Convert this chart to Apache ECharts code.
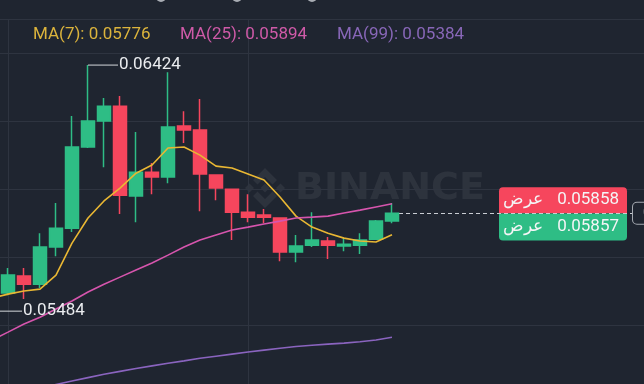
<!DOCTYPE html>
<html><head><meta charset="utf-8">
<script src="https://cdn.jsdelivr.net/npm/echarts@6/dist/echarts.min.js"></script>
<style>html,body{margin:0;padding:0;background:#1f2530;}#c{width:644px;height:384px;}</style>
</head><body><div id="c"></div>
<script>
const categories = ['06:00','06:15','06:30','06:45','07:00','07:15','07:30','07:45','08:00','08:15','08:30','08:45','09:00','09:15','09:30','09:45','10:00','10:15','10:30','10:45','11:00','11:15','11:30','11:45','12:00','12:15','12:30','12:45','13:00','13:15','13:30','13:45','14:00','14:15','14:30','14:45','15:00','15:15','15:30','15:45','16:00','16:15'];
const opens  = [0.05575,0.05553,0.05618,0.05587,0.05729,0.05801,0.06111,0.06210,0.06267,0.05924,0.06015,0.05996,0.06191,0.06176,0.06004,0.05950,0.05862,0.05851,0.05840,0.05710,0.05736,0.05752,0.05733,0.05736,0.05759,0.05828];
const closes = [0.05553,0.05622,0.05587,0.05729,0.05801,0.06111,0.06210,0.06267,0.05927,0.06015,0.05996,0.06187,0.06176,0.06008,0.05954,0.05862,0.05843,0.05843,0.05710,0.05733,0.05756,0.05736,0.05740,0.05756,0.05828,0.05858];
const lows   = [0.05484,0.05545,0.05530,0.05572,0.05694,0.05786,0.06107,0.06034,0.05855,0.05824,0.05931,0.05973,0.06126,0.05866,0.05908,0.05756,0.05824,0.05820,0.05675,0.05671,0.05729,0.05683,0.05713,0.05702,0.05759,0.05820];
const highs  = [0.05600,0.05649,0.05649,0.05782,0.05897,0.06229,0.06424,0.06298,0.06306,0.06168,0.06050,0.06397,0.06248,0.06294,0.06006,0.05952,0.05931,0.05874,0.05843,0.05775,0.05862,0.05767,0.05763,0.05782,0.05832,0.05897];
const ma7  = [0.05534,0.05549,0.05561,0.05568,0.05622,0.05744,0.05840,0.05905,0.05954,0.06011,0.06042,0.06107,0.06111,0.06080,0.06038,0.06031,0.06008,0.05985,0.05920,0.05847,0.05805,0.05782,0.05763,0.05752,0.05748,0.05776];
const ma25 = [0.05374,0.05404,0.05435,0.05461,0.05492,0.05523,0.05557,0.05587,0.05614,0.05641,0.05668,0.05698,0.05729,0.05756,0.05775,0.05794,0.05805,0.05817,0.05828,0.05840,0.05843,0.05847,0.05859,0.05870,0.05882,0.05894];
const ma99 = [0.05141,0.05158,0.05173,0.05188,0.05204,0.05217,0.05230,0.05243,0.05254,0.05265,0.05275,0.05285,0.05294,0.05304,0.05312,0.05320,0.05328,0.05335,0.05342,0.05349,0.05354,0.05358,0.05362,0.05367,0.05374,0.05384];
const gridLevels = [0.0543, 0.0569, 0.0595, 0.0621, 0.0647];
const verticalGridIdx = [1, 16];
const askPrice = 0.05858;
const bidPrice = 0.05857;
const quoteWord = 'عرض';
const maNames = ['MA(7)', 'MA(25)', 'MA(99)'];
const boxCategory = 35;
const lineEndCategory = 40;

const C_UP = '#2ebd85', C_DOWN = '#f6465d';
const C_MA = ['#e9b733', '#d655ad', '#8a64bf'];
const C_TXT_MA = ['#dcb43c', '#cf5aa8', '#8867b8'];
const GRID_C = '#2e3440';
const FONT = 'Roboto, sans-serif';

const candleData = opens.map((o, i) => [o, closes[i], lows[i], highs[i]]);
const lastIdx = closes.length - 1;
const lastClose = closes[lastIdx];
const maLast = [ma7, ma25, ma99].map(a => a[a.length - 1].toFixed(5));
const legendLeft = [33, 180, 337];

const chart = echarts.init(document.getElementById('c'), null, {renderer: 'canvas'});

const logoPts = {
  top: [[0,-20],[12,-8],[7.5,-3.5],[0,-11],[-7.5,-3.5],[-12,-8]],
  bottom: [[0,20],[12,8],[7.5,3.5],[0,11],[-7.5,3.5],[-12,8]],
  left: [[-20,0],[-15.5,-4.5],[-11,0],[-15.5,4.5]],
  right: [[20,0],[15.5,-4.5],[11,0],[15.5,4.5]],
  center: [[0,-4.5],[4.5,0],[0,4.5],[-4.5,0]]
};
const WM = 'rgba(255,255,255,0.065)';

const option = {
  backgroundColor: '#1f2530',
  animation: false,
  textStyle: {fontFamily: FONT},
  title: maNames.map((n, i) => ({
    text: n + ': ' + maLast[i],
    left: legendLeft[i], top: 26, padding: 0,
    textStyle: {color: C_TXT_MA[i], fontSize: 17, fontWeight: 'normal', fontFamily: FONT}
  })),
  graphic: [
    ...[161, 237, 312].map(x => ({type: 'circle', shape: {cx: x, cy: -3, r: 5}, style: {fill: '#a9adb4'}, silent: true})),
    ...Object.keys(logoPts).map(k => ({type: 'polygon', x: 265, y: 188, z: 0, shape: {points: logoPts[k]}, style: {fill: WM}, silent: true})),
    {type: 'text', x: 295, y: 189, z: 0, silent: true,
     style: {text: 'BINANCE', font: 'bold 38px "DejaVu Sans"', fill: WM, verticalAlign: 'middle'}}
  ],
  grid: {left: -8, top: 19, width: 656, height: 366.5, outerBoundsMode: 'none', containLabel: false},
  xAxis: {
    type: 'category', data: categories, boundaryGap: false, position: 'top',
    axisLine: {show: true, lineStyle: {color: GRID_C, width: 1}},
    axisTick: {show: false}, axisLabel: {show: false},
    splitLine: {show: true, interval: (idx) => verticalGridIdx.includes(idx), lineStyle: {color: GRID_C, width: 1}}
  },
  yAxis: {
    type: 'value', min: 0.052, max: 0.066,
    axisLine: {show: false}, axisTick: {show: false}, axisLabel: {show: false},
    splitLine: {show: false}
  },
  series: [
    {
      type: 'candlestick', name: 'K', z: 3, data: candleData, barWidth: 13,
      itemStyle: {color: C_UP, color0: C_DOWN, borderColor: C_UP, borderColor0: C_DOWN, borderWidth: 1.5},
      markPoint: {
        z: 6, silent: true, precision: 5,
        symbol: 'rect', symbolSize: [30, 1], symbolOffset: [15, 0],
        itemStyle: {color: '#d5d8dc'},
        label: {show: true, position: 'right', distance: 1, color: '#eaecef', fontSize: 17, fontFamily: FONT,
                formatter: p => Number(p.value).toFixed(5)},
        data: [{type: 'max', valueDim: 'highest'}, {type: 'min', valueDim: 'lowest'}]
      },
      markLine: {
        z: 2, silent: true, precision: 5, symbol: ['none', 'none'],
        lineStyle: {color: '#c9cdd3', width: 1, type: [4, 3]},
        label: {show: true, position: 'end', distance: 1, formatter: () => lastClose.toFixed(5),
                color: '#eaecef', fontSize: 15, fontFamily: FONT, borderColor: '#a4a9b0', borderWidth: 1,
                borderRadius: 4, padding: [3, 6, 3, 10], backgroundColor: '#1f2530'},
        data: [[{coord: [categories[lastIdx], lastClose]}, {coord: [categories[lineEndCategory], lastClose]}]]
      }
    },
    {
      type: 'line', name: maNames[0], z: 4, data: ma7, symbol: 'none', smooth: false,
      lineStyle: {color: C_MA[0], width: 1.6},
      markLine: {
        z: 1, silent: true, precision: 5, symbol: ['none', 'none'], label: {show: false},
        lineStyle: {color: GRID_C, width: 1, type: 'solid'},
        data: gridLevels.map(v => ({yAxis: v}))
      },
      markPoint: {
        z: 1, silent: true, precision: 5,
        data: [
          {coord: [categories[boxCategory], askPrice], value: askPrice,
           symbol: 'path://M4,0 H124 Q128,0 128,4 V26 H0 V4 Q0,0 4,0 Z', symbolSize: [128, 26], symbolOffset: [11, -13],
           itemStyle: {color: C_DOWN}},
          {coord: [categories[boxCategory], bidPrice], value: bidPrice,
           symbol: 'path://M0,0 H128 V23 Q128,27 124,27 H4 Q0,27 0,23 Z', symbolSize: [128, 27], symbolOffset: [11, 13.5],
           itemStyle: {color: C_UP}}
        ],
        label: {
          show: true, position: 'inside', offset: [-2, 0],
          formatter: p => '{a|' + quoteWord + '}{b|' + Number(p.value).toFixed(5) + '}',
          rich: {
            a: {width: 53, align: 'left', color: '#f4f5f6', fontSize: 17, fontFamily: FONT},
            b: {width: 63, align: 'right', color: '#f4f5f6', fontSize: 17, fontFamily: FONT}
          }
        }
      }
    },
    {type: 'line', name: maNames[1], z: 4, data: ma25, symbol: 'none', lineStyle: {color: C_MA[1], width: 1.6}},
    {type: 'line', name: maNames[2], z: 4, data: ma99, symbol: 'none', lineStyle: {color: C_MA[2], width: 1.6}}
  ]
};
chart.setOption(option);
</script>
</body></html>
